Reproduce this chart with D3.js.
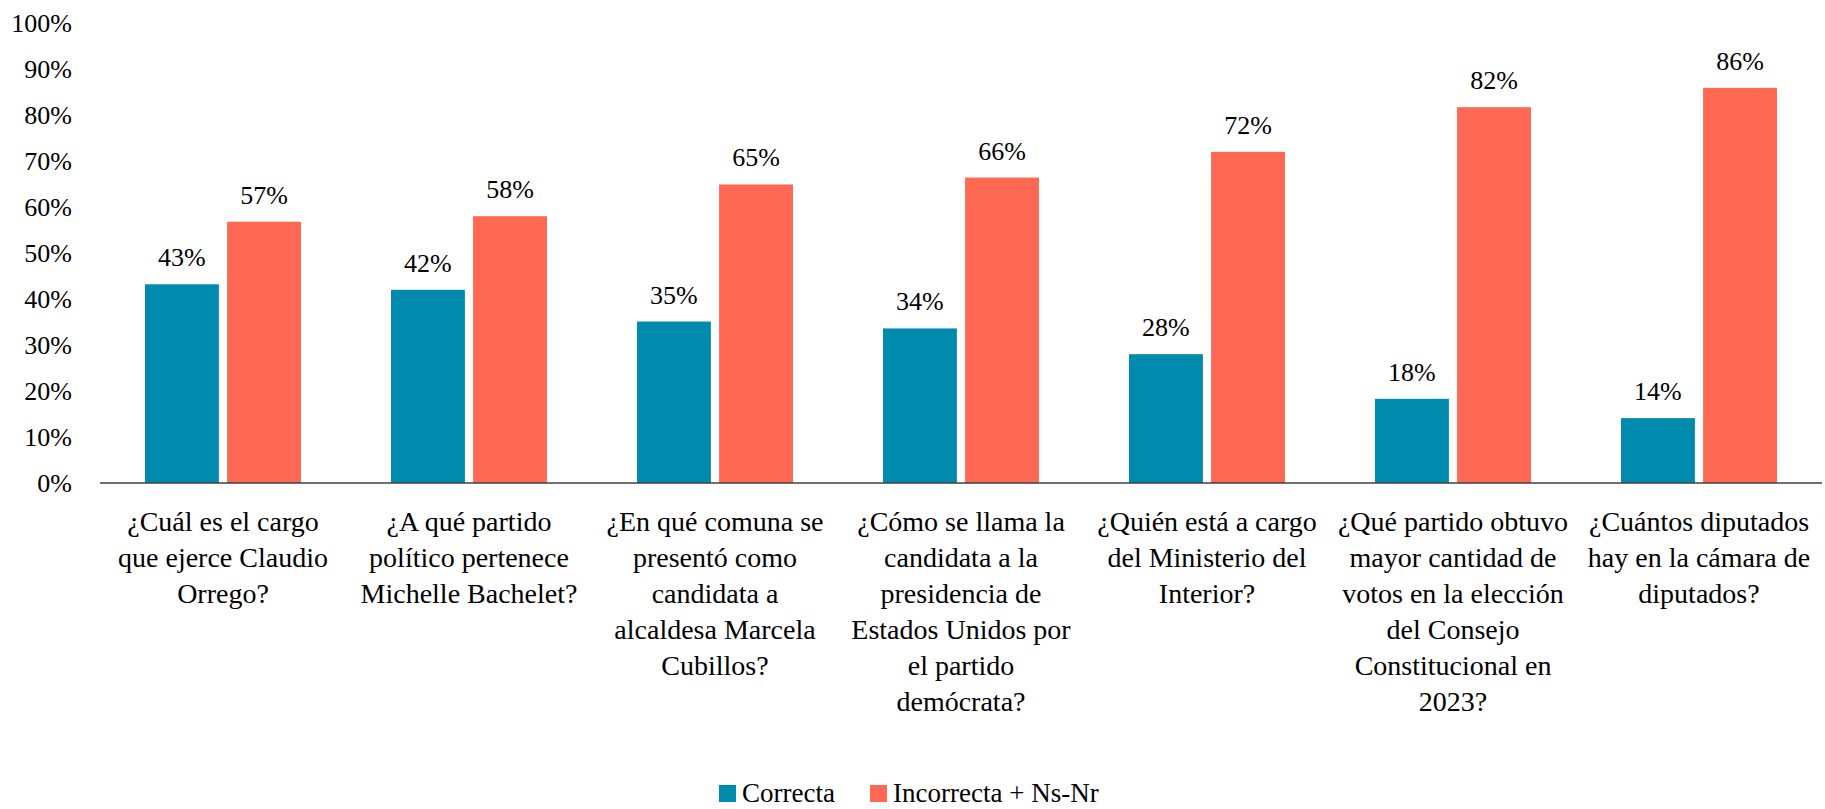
<!DOCTYPE html>
<html>
<head>
<meta charset="utf-8">
<script src="https://cdn.jsdelivr.net/npm/d3@7"></script>
</head>
<body style="margin:0">
<svg id="chart" width="1825" height="809" font-family="Liberation Serif"></svg>
<script>
const categories = [
  ['¿Cuál es el cargo', 'que ejerce Claudio', 'Orrego?'],
  ['¿A qué partido', 'político pertenece', 'Michelle Bachelet?'],
  ['¿En qué comuna se', 'presentó como', 'candidata a', 'alcaldesa Marcela', 'Cubillos?'],
  ['¿Cómo se llama la', 'candidata a la', 'presidencia de', 'Estados Unidos por', 'el partido', 'demócrata?'],
  ['¿Quién está a cargo', 'del Ministerio del', 'Interior?'],
  ['¿Qué partido obtuvo', 'mayor cantidad de', 'votos en la elección', 'del Consejo', 'Constitucional en', '2023?'],
  ['¿Cuántos diputados', 'hay en la cámara de', 'diputados?']
];
const seriesNames = ['Correcta', 'Incorrecta + Ns-Nr'];
const correcta = [43.2, 42.0, 35.1, 33.6, 28.0, 18.3, 14.1];
const incorrecta = [56.8, 58.0, 64.9, 66.4, 72.0, 81.7, 85.9];
const yTicks = [0, 10, 20, 30, 40, 50, 60, 70, 80, 90, 100];
const colors = ['#008aad', '#ff6853'];

const numStyle = "font-family:'Liberation Serif';font-size:26px";
const catStyle = "font-family:'Liberation Serif';font-size:28px";
const legStyle = "font-family:'Liberation Serif';font-size:27px";

const svg = d3.select('#chart');
const margin = { top: 23, right: 3, bottom: 326, left: 100 };
const width = 1825 - margin.left - margin.right;
const height = 809 - margin.top - margin.bottom;

const g = svg.append('g')
  .attr('transform', `translate(${margin.left},${margin.top})`);

const data = categories.map((c, i) => ({ idx: i, lines: c, values: [correcta[i], incorrecta[i]] }));

const x0 = d3.scaleBand()
  .domain(d3.range(categories.length))
  .range([0, width])
  .paddingInner(0.366)
  .paddingOuter(0.183);

const x1 = d3.scaleBand()
  .domain(d3.range(seriesNames.length))
  .range([0, x0.bandwidth()])
  .paddingInner(0.1);

const y = d3.scaleLinear()
  .domain([0, 100])
  .range([height, 0]);

// y labels, no axis line
g.selectAll('.ylab')
  .data(yTicks)
  .enter().append('text')
    .attr('class', 'ylab')
    .attr('x', -28)
    .attr('y', d => y(d))
    .attr('dy', '0.35em')
    .attr('text-anchor', 'end')
    .attr('style', numStyle)
    .text(d => `${d}%`);

const group = g.selectAll('.group')
  .data(data)
  .enter().append('g')
    .attr('class', 'group')
    .attr('transform', d => `translate(${x0(d.idx)},0)`);

group.selectAll('rect')
  .data(d => d.values.map((v, s) => ({ v, s })))
  .enter().append('rect')
    .attr('x', d => x1(d.s))
    .attr('y', d => y(d.v))
    .attr('width', x1.bandwidth())
    .attr('height', d => height - y(d.v))
    .attr('fill', d => colors[d.s]);

group.selectAll('.vlab')
  .data(d => d.values.map((v, s) => ({ v, s })))
  .enter().append('text')
    .attr('class', 'vlab')
    .attr('x', d => x1(d.s) + x1.bandwidth() / 2)
    .attr('y', d => y(d.v) - 18)
    .attr('text-anchor', 'middle')
    .attr('style', numStyle)
    .text(d => `${Math.round(d.v)}%`);

// baseline
g.append('line')
  .attr('x1', 0)
  .attr('x2', width)
  .attr('y1', height)
  .attr('y2', height)
  .attr('stroke', '#404040')
  .attr('stroke-width', 1.5);

// category labels
const cat = g.selectAll('.clab')
  .data(data)
  .enter().append('text')
    .attr('class', 'clab')
    .attr('text-anchor', 'middle')
    .attr('style', catStyle)
    .attr('transform', d => `translate(${x0(d.idx) + x0.bandwidth() / 2},${height + 48})`);

cat.selectAll('tspan')
  .data(d => d.lines)
  .enter().append('tspan')
    .attr('x', 0)
    .attr('y', (d, i) => i * 36)
    .text(d => d);

// legend
const legendX = [719, 870];
const legend = svg.selectAll('.legend')
  .data(seriesNames)
  .enter().append('g')
    .attr('class', 'legend')
    .attr('transform', (d, i) => `translate(${legendX[i]},785)`);

legend.append('rect')
  .attr('width', 17)
  .attr('height', 17)
  .attr('fill', (d, i) => colors[i]);

legend.append('text')
  .attr('x', 23)
  .attr('y', 17)
  .attr('style', legStyle)
  .text(d => d);
</script>
</body>
</html>
